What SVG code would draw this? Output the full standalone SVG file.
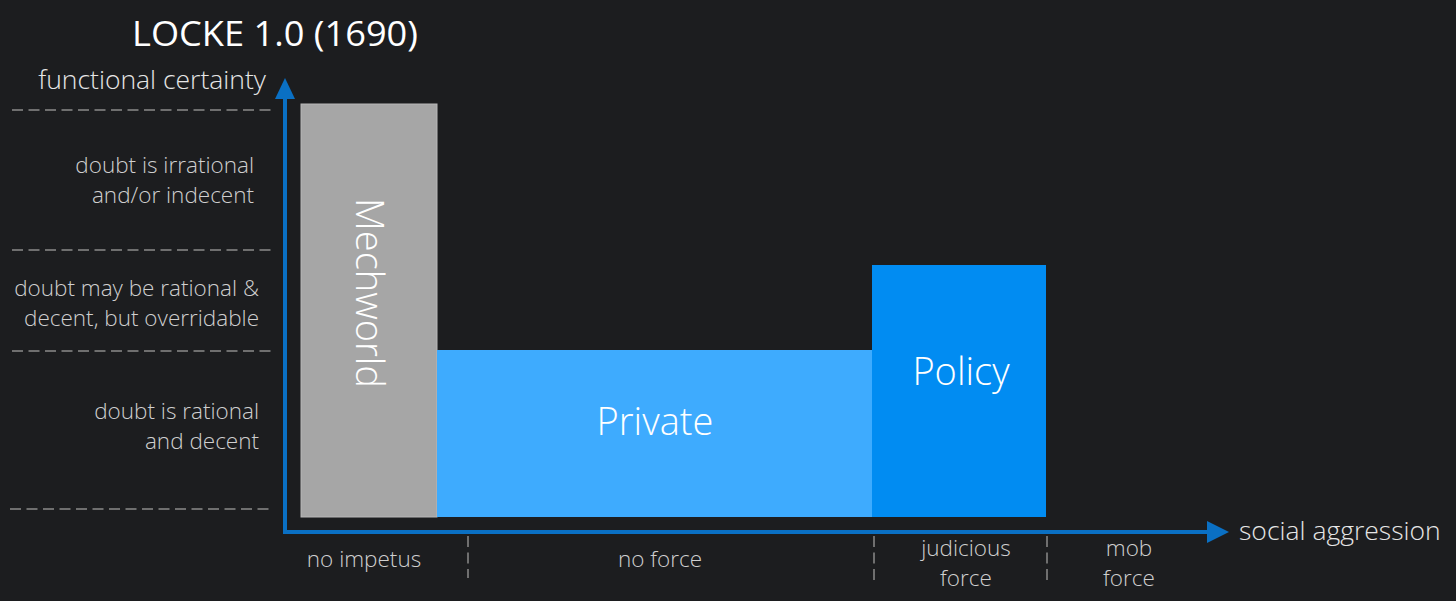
<svg xmlns="http://www.w3.org/2000/svg" width="1456" height="601" viewBox="0 0 1456 601">
<defs>
<style>
.lbl{font-family:"Open Sans","Lato","Liberation Sans",sans-serif;font-weight:300;fill:#cfcfcf;font-size:22.5px}
.ax{font-family:"Open Sans","Lato","Liberation Sans",sans-serif;font-weight:300;fill:#e6e6e6;font-size:26.5px}
.big{font-family:"Open Sans","Lato","Liberation Sans",sans-serif;font-weight:300;fill:#ffffff;font-size:38px}
.dash{stroke:#8a8a8a;stroke-width:1.5;stroke-dasharray:11 5.5;fill:none}
.axis{stroke:#0a70c4;stroke-width:4;fill:none}
</style>
</defs>
<rect width="1456" height="601" fill="#1c1d1f"/>
<text x="132" y="46" font-family="Open Sans, Liberation Sans, sans-serif" font-size="35" fill="#ffffff" textLength="286" lengthAdjust="spacingAndGlyphs">LOCKE 1.0 (1690)</text>
<g id="gridlines">
<line class="dash" x1="12" y1="110" x2="274" y2="110"/>
<line class="dash" x1="12" y1="250" x2="274" y2="250"/>
<line class="dash" x1="12" y1="351" x2="274" y2="351"/>
<line class="dash" x1="10" y1="509" x2="270" y2="509"/>
<line class="dash" x1="468" y1="536" x2="468" y2="578"/>
<line class="dash" x1="874" y1="536" x2="874" y2="580"/>
<line class="dash" x1="1047" y1="536" x2="1047" y2="580"/>
</g>
<g id="mechworld">
<rect x="301" y="104" width="136" height="413" fill="#a6a6a6" stroke="#b8b8b8" stroke-width="1"/>
<text class="big" transform="translate(356,293) rotate(90)" text-anchor="middle">Mechworld</text>
</g>
<g id="private">
<rect x="437" y="350" width="435" height="167" fill="#3eabfe"/>
<text class="big" x="655" y="435" text-anchor="middle">Private</text>
</g>
<g id="policy">
<rect x="872" y="265" width="174" height="252" fill="#018cf2"/>
<text class="big" x="961" y="385" text-anchor="middle">Policy</text>
</g>
<g id="connectors">
<line class="axis" x1="285" y1="96" x2="285" y2="532"/>
<line class="axis" x1="283" y1="532" x2="1210" y2="532"/>
<polygon points="285,78 295,99 275,99" fill="#0a70c4"/>
<polygon points="1229,532 1207,521 1207,543" fill="#0a70c4"/>
</g>
<g id="labels">
<text class="ax" x="266" y="89" text-anchor="end">functional certainty</text>
<text class="ax" x="1239" y="540">social aggression</text>
<text class="lbl" x="254" y="173" text-anchor="end">doubt is irrational</text>
<text class="lbl" x="254" y="203" text-anchor="end">and/or indecent</text>
<text class="lbl" x="259" y="296" text-anchor="end">doubt may be rational &amp;</text>
<text class="lbl" x="259" y="326" text-anchor="end">decent, but overridable</text>
<text class="lbl" x="259" y="419" text-anchor="end">doubt is rational</text>
<text class="lbl" x="259" y="449" text-anchor="end">and decent</text>
<text class="lbl" x="364" y="567" text-anchor="middle">no impetus</text>
<text class="lbl" x="660" y="567" text-anchor="middle">no force</text>
<text class="lbl" x="966" y="556" text-anchor="middle">judicious</text>
<text class="lbl" x="966" y="586" text-anchor="middle">force</text>
<text class="lbl" x="1129" y="556" text-anchor="middle">mob</text>
<text class="lbl" x="1129" y="586" text-anchor="middle">force</text>
</g>
</svg>
